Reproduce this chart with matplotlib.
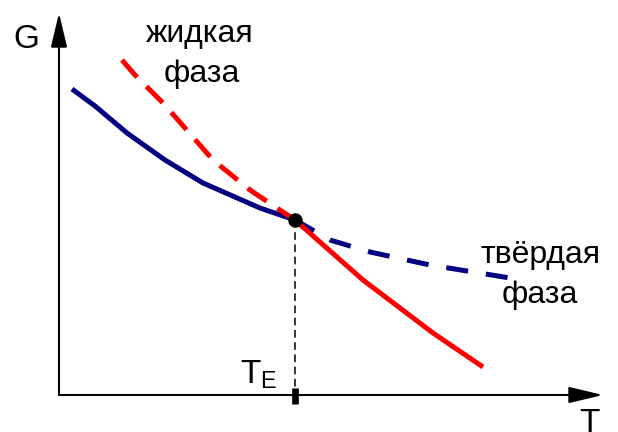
import matplotlib
matplotlib.use("Agg")
import matplotlib.pyplot as plt

plt.rcParams["font.family"] = ["Liberation Sans", "DejaVu Sans"]

# solid phase (blue): stable below T_E, metastable above
solid_T_stable = [13, 36, 68, 106, 144, 201, 236]
solid_G_stable = [306, 289, 262, 235, 212, 187, 175]
solid_T_meta = [236, 271, 311, 371, 451]
solid_G_meta = [175, 155, 143, 130, 117]

# liquid phase (red): metastable below T_E, stable above
liquid_T_meta = [63, 76, 104, 126, 154, 191, 236]
liquid_G_meta = [335, 320, 292, 267, 235, 205, 175]
liquid_T_stable = [236, 304, 374, 424]
liquid_G_stable = [175, 115, 62, 28]

T_E = 236
G_E = 175

BLUE = "#000080"
RED = "#ff0000"

fig = plt.figure(figsize=(6.18, 4.32), dpi=100)
ax = fig.add_axes([0, 0, 1, 1])
ax.set_xlim(-59, 559)
ax.set_ylim(-37, 395)
ax.axis("off")

lw = 3.6
ax.plot(solid_T_stable, solid_G_stable, color=BLUE, lw=lw, solid_capstyle="butt",
        solid_joinstyle="round")
ax.plot(solid_T_meta, solid_G_meta, color=BLUE, lw=lw, dashes=(4.4, 3.6),
        dash_capstyle="butt")
ax.plot(liquid_T_meta, liquid_G_meta, color=RED, lw=lw, dashes=(4.6, 2.6),
        dash_capstyle="butt")
ax.plot(liquid_T_stable, liquid_G_stable, color=RED, lw=lw, solid_capstyle="butt",
        solid_joinstyle="round")

# drop line to the T axis
ax.plot([T_E, T_E], [G_E, 0], color="black", lw=1.1, dashes=(5, 3), zorder=1)
ax.plot(T_E, G_E, "o", color="black", ms=9.4, zorder=5)
ax.plot([T_E, T_E], [-9, 7], color="black", lw=4.8, solid_capstyle="butt",
        zorder=5)

# axes with arrows
arrow = dict(arrowstyle="-|>,head_length=2.1,head_width=0.5", color="black",
             lw=1.5, shrinkA=0, shrinkB=0)
ax.annotate("", xy=(0, 382), xytext=(0, 0), arrowprops=arrow)
ax.annotate("", xy=(544, 0), xytext=(0, 0), arrowprops=arrow)

fs = 23
ax.text(-33, 347, "G", fontsize=24, ha="center", va="baseline")
ax.text(530, -37, "T", fontsize=24, ha="center", va="baseline")
ax.text(200, 12, "T$_\\mathregular{E}$", fontsize=24, ha="center", va="baseline")
ax.text(141, 353, "жидкая", fontsize=fs, ha="center", va="baseline")
ax.text(143, 313, "фаза", fontsize=fs, ha="center", va="baseline")
ax.text(482, 132, "твёрдая", fontsize=fs, ha="center", va="baseline")
ax.text(481, 92, "фаза", fontsize=fs, ha="center", va="baseline")

fig.savefig("out.png", dpi=100)
